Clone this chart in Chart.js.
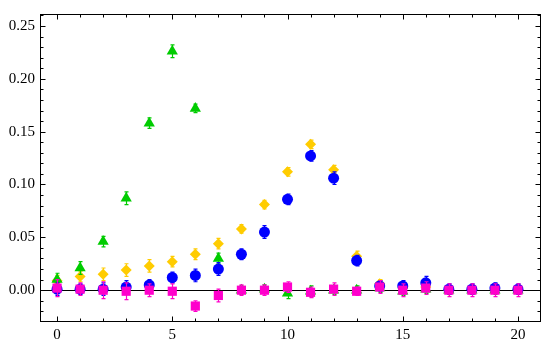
<!DOCTYPE html>
<html>
<head>
<meta charset="utf-8">
<script src="https://cdn.jsdelivr.net/npm/chart.js@4"></script>
<style>
  html, body { margin: 0; padding: 0; background: #fff; }
  #wrap { width: 548px; height: 345px; }
</style>
</head>
<body>
<div id="wrap"><canvas id="c"></canvas></div>
<script>
const xs = [0,1,2,3,4,5,6,7,8,9,10,11,12,13,14,15,16,17,18,19,20];

const blueY   = [0.001,0.001,0.001,0.003,0.005,0.012,0.014,0.020,0.034,0.055,0.086,0.127,0.106,0.028,0.004,0.004,0.007,0.001,0.001,0.002,0.001];
const blueErr = [0.006,0.005,0.006,0.006,0.005,0.005,0.006,0.006,0.005,0.006,0.005,0.005,0.006,0.005,0.005,0.005,0.006,0.005,0.005,0.005,0.005];

const goldY   = [0.009,0.013,0.015,0.019,0.023,0.027,0.034,0.044,0.058,0.081,0.112,0.138,0.114,0.032,0.006,0.002,0.003,0.000,0.001,0.001,0.001];
const goldErr = [0.005,0.005,0.006,0.006,0.006,0.005,0.005,0.005,0.004,0.004,0.004,0.004,0.004,0.005,0.004,0.004,0.004,0.004,0.004,0.004,0.004];

const greenY   = [0.010,0.021,0.046,0.087,0.158,0.226,0.172,0.030,0.000,0.001,-0.003,-0.001,0.000,0.000,0.002,-0.001,0.001,0.000,0.000,0.000,0.000];
const greenErr = [0.006,0.006,0.005,0.006,0.005,0.006,0.004,0.005,0.004,0.004,0.005,0.005,0.004,0.004,0.004,0.004,0.004,0.004,0.004,0.004,0.004];

const pinkY   = [0.002,0.001,0.000,-0.001,0.000,-0.001,-0.015,-0.005,0.000,0.000,0.003,-0.002,0.001,-0.001,0.003,0.000,0.002,0.000,0.000,0.000,0.000];
const pinkErr = [0.008,0.006,0.008,0.008,0.006,0.007,0.005,0.006,0.005,0.005,0.005,0.005,0.006,0.004,0.006,0.006,0.006,0.006,0.006,0.006,0.006];

const xTicks = [0,5,10,15,20];
const yTicks = [0,0.05,0.10,0.15,0.20,0.25];

const BLUE = '#0000ff', GOLD = '#ffcc00', GREEN = '#00cc00', PINK = '#ff00cc';

function pts(ys){ return xs.map((x,i)=>({x:x, y:ys[i]})); }

const errorBars = {
  id: 'errorBars',
  beforeDatasetDraw(chart, args) {
    const ds = chart.data.datasets[args.index];
    const errs = ds.errors; if (!errs) return;
    const ctx = chart.ctx, xS = chart.scales.x, yS = chart.scales.y;
    ctx.save();
    ctx.strokeStyle = ds.errColor || ds.backgroundColor;
    ctx.lineWidth = 1.2;
    ds.data.forEach((p,i)=>{
      const px = Math.round(xS.getPixelForValue(p.x)) + 0.5;
      const y1 = yS.getPixelForValue(p.y - errs[i]);
      const y2 = yS.getPixelForValue(p.y + errs[i]);
      ctx.beginPath();
      ctx.moveTo(px, y1); ctx.lineTo(px, y2);
      ctx.moveTo(px-2, y1); ctx.lineTo(px+2, y1);
      ctx.moveTo(px-2, y2); ctx.lineTo(px+2, y2);
      ctx.stroke();
    });
    ctx.restore();
  }
};

const frame = {
  id: 'frame',
  beforeDatasetsDraw(chart) {
    const ctx = chart.ctx, a = chart.chartArea, yS = chart.scales.y;
    const y0 = Math.round(yS.getPixelForValue(0)) + 0.5;
    ctx.save();
    ctx.strokeStyle = '#000'; ctx.lineWidth = 1;
    ctx.beginPath(); ctx.moveTo(a.left, y0); ctx.lineTo(a.right, y0); ctx.stroke();
    ctx.restore();
  },
  afterDraw(chart) {
    const ctx = chart.ctx, a = chart.chartArea, xS = chart.scales.x, yS = chart.scales.y;
    ctx.save();
    ctx.strokeStyle = '#000'; ctx.lineWidth = 1;
    const L = Math.round(a.left)+0.5, R = Math.round(a.right)-0.5, T = Math.round(a.top)+0.5, B = Math.round(a.bottom)-0.5;
    ctx.strokeRect(L, T, R-L, B-T);
    ctx.beginPath();
    for (let v = 0; v <= 20; v++) {
      const px = Math.round(xS.getPixelForValue(v)) + 0.5;
      const len = (v % 5 === 0) ? 5 : 3;
      ctx.moveTo(px, B); ctx.lineTo(px, B - len);
      ctx.moveTo(px, T); ctx.lineTo(px, T + len);
    }
    for (let k = -2; k <= 26; k++) {
      const v = k / 100;
      const py = Math.round(yS.getPixelForValue(v)) + 0.5;
      const len = (k % 5 === 0) ? 5 : 3;
      ctx.moveTo(L, py); ctx.lineTo(L + len, py);
      ctx.moveTo(R, py); ctx.lineTo(R - len, py);
    }
    ctx.stroke();
    ctx.restore();
  }
};

const font = { family: '"Liberation Serif", "Times New Roman", serif', size: 15 };

new Chart(document.getElementById('c'), {
  type: 'scatter',
  data: {
    datasets: [
      { label: 'pink', data: pts(pinkY), errors: pinkErr, backgroundColor: PINK, borderColor: PINK, pointStyle: 'rect', pointRadius: 6.5, borderWidth: 0 },
      { label: 'blue', data: pts(blueY), errors: blueErr, backgroundColor: BLUE, borderColor: BLUE, pointStyle: 'circle', pointRadius: 5.5, borderWidth: 0 },
      { label: 'green', data: pts(greenY), errors: greenErr, backgroundColor: GREEN, borderColor: GREEN, pointStyle: 'triangle', pointRadius: 6.5, borderWidth: 0 },
      { label: 'gold', data: pts(goldY), errors: goldErr, backgroundColor: GOLD, borderColor: GOLD, pointStyle: 'rectRot', pointRadius: 5.5, borderWidth: 0 }
    ]
  },
  options: {
    responsive: true,
    maintainAspectRatio: false,
    animation: false,
    events: [],
    layout: { padding: { top: 12, right: 7, left: 0, bottom: 0 } },
    plugins: { legend: { display: false }, tooltip: { enabled: false } },
    scales: {
      x: {
        type: 'linear', min: -0.74, max: 21,
        grid: { display: false, drawTicks: false },
        border: { display: false },
        afterBuildTicks(s) { s.ticks = xTicks.map(v => ({ value: v })); },
        afterFit(s) { s.height = 23; },
        ticks: { color: '#000', font: font, padding: 4, maxRotation: 0, callback: v => String(v) }
      },
      y: {
        type: 'linear', min: -0.0301, max: 0.2613,
        grid: { display: false, drawTicks: false },
        border: { display: false },
        afterBuildTicks(s) { s.ticks = yTicks.map(v => ({ value: v })); },
        afterFit(s) { s.width = 40; },
        ticks: { color: '#000', font: font, padding: 5, callback: v => v.toFixed(2) }
      }
    }
  },
  plugins: [errorBars, frame]
});
</script>
</body>
</html>
